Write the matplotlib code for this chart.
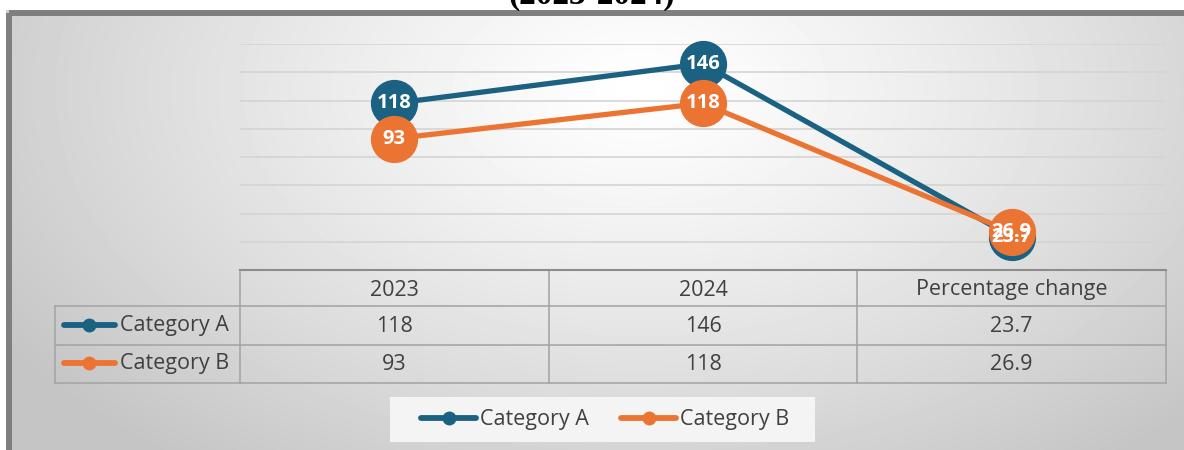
import matplotlib.pyplot as plt
import numpy as np
from matplotlib.patches import Rectangle
from matplotlib.lines import Line2D

# values shown on the chart and in the table below it
periods = ["2023", "2024", "Percentage change"]
series_names = ["Category A", "Category B"]
category_a = [118, 146, 23.7]
category_b = [93, 118, 26.9]
title_text = "(2023-2024)"

colors = ["#1b6182", "#ec7433"]
text_grey = "#404040"
line_grey = "#a6a6a6"
FONT = "Open Sans"
TABLE_FS = 15.5

W, H = 1184, 450


def fig_box(x0, y0, x1, y1):
	# pixel box (top-left origin) -> figure fraction rect
	return [x0 / W, 1 - y1 / H, (x1 - x0) / W, (y1 - y0) / H]


def plot():
	fig = plt.figure(figsize=(W / 100, H / 100), dpi=100)
	fig.patch.set_facecolor("white")

	# background layer in pixel coordinates
	bg = fig.add_axes([0, 0, 1, 1])
	bg.set_xlim(0, W)
	bg.set_ylim(H, 0)
	bg.axis("off")

	yy, xx = np.mgrid[10:H, 6:W]
	r = np.sqrt(((xx - 640) / 760.0) ** 2 + ((yy - 90) / 470.0) ** 2)
	shade = 1 - 0.23 * np.clip(r, 0, 1) ** 1.2
	bg.imshow(shade, cmap="gray", vmin=0, vmax=1, extent=(6, W, H, 10),
			  aspect="auto", interpolation="bilinear", zorder=0)
	bg.add_patch(Rectangle((9, 13), W, H, fill=False, edgecolor="#7f7f7f",
						   linewidth=4.3, zorder=1))
	bg.text(592, 4, title_text, family="Liberation Serif", weight="bold",
			fontsize=24, ha="center", va="baseline", color="black")

	# data table grid
	col_edges = [240, 549, 857, 1166]
	row_edges = [306, 345, 383]
	for y in row_edges:
		bg.plot([55, 1166], [y, y], color=line_grey, lw=1.2, zorder=2)
	bg.plot([55, 55], [306, 383], color=line_grey, lw=1.2, zorder=2)
	for x in col_edges:
		bg.plot([x, x], [270, 383], color=line_grey, lw=1.2, zorder=2)

	col_centers = [(col_edges[i] + col_edges[i + 1]) / 2 for i in range(3)]
	for cx, label in zip(col_centers, periods):
		bg.text(cx, 290, label, family=FONT, fontsize=TABLE_FS, color=text_grey,
				ha="center", va="center", zorder=3)
	rows = [category_a, category_b]
	row_mid = [327, 365]
	for ry, vals, name, c in zip(row_mid, rows, series_names, colors):
		for cx, v in zip(col_centers, vals):
			bg.text(cx, ry, f"{v:g}", family=FONT, fontsize=TABLE_FS,
					color=text_grey, ha="center", va="center", zorder=3)
		bg.add_line(Line2D([64, 115], [ry - 2, ry - 2], color=c, lw=4.2,
						   solid_capstyle="round", zorder=3))
		bg.plot([89], [ry - 2], "o", color=c, ms=9, zorder=4)
		bg.text(120, ry - 1, name, family=FONT, fontsize=TABLE_FS,
				color=text_grey, ha="left", va="center", zorder=3)

	# legend box at the bottom
	bg.add_patch(Rectangle((390, 397), 425, 45, facecolor="#f4f4f4",
						   edgecolor="none", zorder=2))
	for x0, name, c in zip([421, 621], series_names, colors):
		bg.add_line(Line2D([x0, x0 + 55], [418, 418], color=c, lw=4.2,
						   solid_capstyle="round", zorder=3))
		bg.plot([x0 + 28], [418], "o", color=c, ms=9, zorder=4)
		bg.text(x0 + 59, 419, name, family=FONT, fontsize=TABLE_FS,
				color=text_grey, ha="left", va="center", zorder=3)

	# line chart
	ax = fig.add_axes(fig_box(240, 44, 1166, 270))
	ax.patch.set_alpha(0)
	x = np.arange(len(periods))
	ax.set_xlim(-0.5, len(periods) - 0.5)
	ax.set_ylim(0, 160)
	ax.set_yticks(np.arange(20, 161, 20))
	ax.grid(axis="y", color="#d4d4d4", lw=1.2)
	ax.set_axisbelow(True)
	ax.tick_params(left=False, bottom=False, labelleft=False, labelbottom=False)
	for s in ax.spines.values():
		s.set_visible(False)
	ax.axhline(0, color="#8c8c8c", lw=1.5, clip_on=False)

	for vals, c in zip(rows, colors):
		ax.plot(x, vals, "-o", color=c, lw=3.8, ms=33, clip_on=False, zorder=3)
	for vals in rows:
		for xi, v in zip(x, vals):
			ax.text(xi, v, f"{v:g}", family=FONT, weight="bold", fontsize=14.5,
					color="white", ha="center", va="center", zorder=5)

	fig.savefig("out.png", dpi=100, facecolor="white")


def main():
	plot()


if __name__ == "__main__":
	main()
